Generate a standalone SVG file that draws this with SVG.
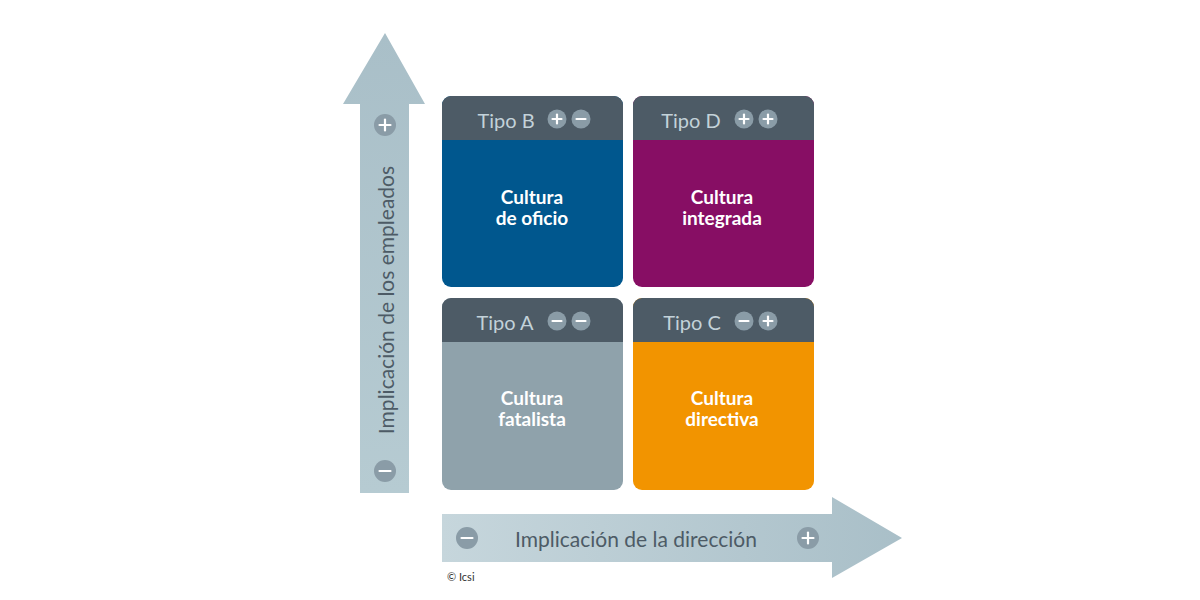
<svg xmlns="http://www.w3.org/2000/svg" width="1200" height="600" viewBox="0 0 1200 600">
<style>
.hdr{fill:#4d5b66}
.htxt{font-family:Lato,"Open Sans",sans-serif;font-size:20px;fill:#c3d2d9;text-anchor:middle;dominant-baseline:central}
.btxt{font-family:Lato,"Open Sans",sans-serif;font-weight:bold;font-size:19px;fill:#ffffff;text-anchor:middle}
.badge{fill:#8a9ca7}
.sign{stroke:#ffffff;stroke-width:2.2;stroke-linecap:round}
.axtxt{font-family:Lato,"Open Sans",sans-serif;font-size:21px;fill:#4d5b66;text-anchor:middle;dominant-baseline:central}
</style>
<defs>
<linearGradient id="hg" x1="0" y1="0" x2="1" y2="0">
<stop offset="0" stop-color="#c6d6dc"/><stop offset="1" stop-color="#a9bfc8"/>
</linearGradient>
<linearGradient id="vg" x1="0" y1="1" x2="0" y2="0">
<stop offset="0" stop-color="#b6cbd2"/><stop offset="1" stop-color="#a9bfc8"/>
</linearGradient>
<clipPath id="cB"><rect x="442" y="96" width="181" height="191" rx="9"/></clipPath>
<clipPath id="cD"><rect x="633" y="96" width="181" height="191" rx="9"/></clipPath>
<clipPath id="cA"><rect x="442" y="298" width="181" height="192" rx="9"/></clipPath>
<clipPath id="cC"><rect x="633" y="298" width="181" height="192" rx="9"/></clipPath>
</defs>
<g id="connectors">
<g id="axis-y">
<polygon points="360,493 409,493 409,104 425,104 385,33 343,104 360,104" fill="url(#vg)"/>
<circle cx="385" cy="125" r="11" class="badge"/>
<line x1="379.5" y1="125" x2="390.5" y2="125" class="sign"/><line x1="385" y1="119.5" x2="385" y2="130.5" class="sign"/>
<circle cx="385" cy="471" r="11" class="badge"/>
<line x1="379.5" y1="471" x2="390.5" y2="471" class="sign"/>
<text x="385" y="300" class="axtxt" transform="rotate(-90 385 300)">Implicación de los empleados</text>
</g>
<g id="axis-x">
<polygon points="442,514 832,514 832,497 902,538 832,578 832,562 442,562" fill="url(#hg)"/>
<circle cx="467" cy="538" r="11" class="badge"/>
<line x1="461.5" y1="538" x2="472.5" y2="538" class="sign"/>
<circle cx="808" cy="538" r="11" class="badge"/>
<line x1="802.5" y1="538" x2="813.5" y2="538" class="sign"/><line x1="808" y1="532.5" x2="808" y2="543.5" class="sign"/>
<text x="636" y="538" class="axtxt">Implicación de la dirección</text>
</g>
</g>
<g id="tipo-b" clip-path="url(#cB)">
<rect x="442" y="96" width="181" height="191" fill="#00578e"/>
<rect x="442" y="96" width="181" height="44" class="hdr"/>
<text x="506" y="120" class="htxt">Tipo B</text>
<circle cx="557" cy="119" r="9.5" class="badge"/>
<line x1="552.5" y1="119" x2="561.5" y2="119" class="sign"/><line x1="557" y1="114.5" x2="557" y2="123.5" class="sign"/>
<circle cx="581" cy="119" r="9.5" class="badge"/>
<line x1="576.5" y1="119" x2="585.5" y2="119" class="sign"/>
<text x="532" y="204" class="btxt">Cultura</text>
<text x="532" y="225" class="btxt">de oficio</text>
</g>
<g id="tipo-d" clip-path="url(#cD)">
<rect x="633" y="96" width="181" height="191" fill="#870e64"/>
<rect x="633" y="96" width="181" height="44" class="hdr"/>
<text x="691" y="120" class="htxt">Tipo D</text>
<circle cx="744" cy="119" r="9.5" class="badge"/>
<line x1="739.5" y1="119" x2="748.5" y2="119" class="sign"/><line x1="744" y1="114.5" x2="744" y2="123.5" class="sign"/>
<circle cx="768" cy="119" r="9.5" class="badge"/>
<line x1="763.5" y1="119" x2="772.5" y2="119" class="sign"/><line x1="768" y1="114.5" x2="768" y2="123.5" class="sign"/>
<text x="722" y="204" class="btxt">Cultura</text>
<text x="722" y="225" class="btxt">integrada</text>
</g>
<g id="tipo-a" clip-path="url(#cA)">
<rect x="442" y="298" width="181" height="192" fill="#8fa2ab"/>
<rect x="442" y="298" width="181" height="44" class="hdr"/>
<text x="505" y="322" class="htxt">Tipo A</text>
<circle cx="557" cy="321" r="9.5" class="badge"/>
<line x1="552.5" y1="321" x2="561.5" y2="321" class="sign"/>
<circle cx="581" cy="321" r="9.5" class="badge"/>
<line x1="576.5" y1="321" x2="585.5" y2="321" class="sign"/>
<text x="532" y="405" class="btxt">Cultura</text>
<text x="532" y="426" class="btxt">fatalista</text>
</g>
<g id="tipo-c" clip-path="url(#cC)">
<rect x="633" y="298" width="181" height="192" fill="#f29400"/>
<rect x="633" y="298" width="181" height="44" class="hdr"/>
<text x="692" y="322" class="htxt">Tipo C</text>
<circle cx="744" cy="321" r="9.5" class="badge"/>
<line x1="739.5" y1="321" x2="748.5" y2="321" class="sign"/>
<circle cx="768" cy="321" r="9.5" class="badge"/>
<line x1="763.5" y1="321" x2="772.5" y2="321" class="sign"/><line x1="768" y1="316.5" x2="768" y2="325.5" class="sign"/>
<text x="722" y="405" class="btxt">Cultura</text>
<text x="722" y="426" class="btxt">directiva</text>
</g>
<text x="447" y="581" font-family="Lato,'Open Sans',sans-serif" font-size="11" fill="#333333">© Icsi</text>
</svg>
